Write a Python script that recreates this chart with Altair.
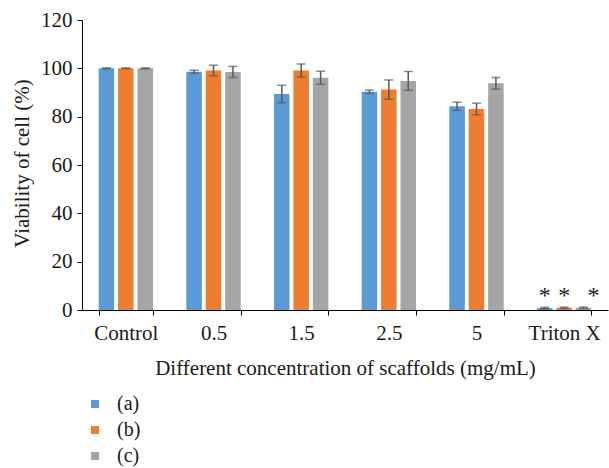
import altair as alt
import pandas as pd

categories = ["Control", "0.5", "1.5", "2.5", "5", "Triton X"]
groups = ["(a)", "(b)", "(c)"]
vals_a = [100, 98.6, 89.4, 90.3, 84.3, 0.8]
err_a = [0.2, 0.6, 3.6, 0.7, 1.7, 0.3]
vals_b = [100, 99.1, 99.1, 91.2, 83.2, 0.9]
err_b = [0.2, 2.2, 2.7, 4.0, 2.4, 0.3]
vals_c = [100, 98.5, 96.1, 94.8, 93.8, 0.9]
err_c = [0.2, 2.3, 2.7, 3.9, 2.4, 0.3]
colors = ["#5B9BD5", "#ED7D31", "#A5A5A5"]
star_category = "Triton X"

rows = []
for g, vals, errs in zip(groups, [vals_a, vals_b, vals_c], [err_a, err_b, err_c]):
    for c, v, e in zip(categories, vals, errs):
        rows.append({"cat": c, "grp": g, "val": v, "lo": v - e, "hi": v + e})
df = pd.DataFrame(rows)

stars = pd.DataFrame({"cat": [star_category] * 3, "grp": groups, "y": [3, 3, 3], "t": ["*"] * 3})

FONT = "Liberation Serif"
FS = 21

x = alt.X("cat:N", sort=categories, title="Different concentration of scaffolds (mg/mL)",
          scale=alt.Scale(paddingInner=0.38, paddingOuter=0.19),
          axis=alt.Axis(labelAngle=0, bandPosition=0, tickBand="extent", labelPadding=7,
                        titleY=64, titleBaseline="alphabetic"))
xo = alt.XOffset("grp:N", sort=groups, scale=alt.Scale(paddingInner=0.2, paddingOuter=0))

bars = alt.Chart(df).mark_bar().encode(
    x=x,
    xOffset=xo,
    y=alt.Y("val:Q", title="Viability of cell (%)",
            scale=alt.Scale(domain=[0, 120], nice=False),
            axis=alt.Axis(values=[0, 20, 40, 60, 80, 100, 120], labelPadding=5,
                          titleX=-60, titleY=143, titleBaseline="middle")),
    color=alt.Color("grp:N", sort=groups, scale=alt.Scale(domain=groups, range=colors),
                    legend=alt.Legend(title=None, orient="none", legendX=3, legendY=374,
                                      direction="vertical", symbolType="square", symbolSize=64,
                                      symbolStrokeWidth=0, labelOffset=12, rowPadding=6,
                                      padding=0, labelFontSize=20, labelFont=FONT,
                                      labelColor="#1a1a1a")),
)

rules = alt.Chart(df).mark_rule(color="#595959", strokeWidth=1.5).encode(
    x=alt.X("cat:N", sort=categories), xOffset=xo, y="lo:Q", y2="hi:Q")
cap_lo = alt.Chart(df).mark_tick(color="#595959", thickness=1.5, size=9).encode(
    x=alt.X("cat:N", sort=categories), xOffset=xo, y="lo:Q")
cap_hi = alt.Chart(df).mark_tick(color="#595959", thickness=1.5, size=9).encode(
    x=alt.X("cat:N", sort=categories), xOffset=xo, y="hi:Q")

star_ab = alt.Chart(stars).transform_filter(alt.datum.grp != "(c)").mark_text(
    font=FONT, fontSize=24, baseline="alphabetic", color="#1a1a1a").encode(
    x=alt.X("cat:N", sort=categories), xOffset=xo, y="y:Q", text="t:N")
star_c = alt.Chart(stars).transform_filter(alt.datum.grp == "(c)").mark_text(
    font=FONT, fontSize=24, baseline="alphabetic", color="#1a1a1a", dx=10).encode(
    x=alt.X("cat:N", sort=categories), xOffset=xo, y="y:Q", text="t:N")

chart = alt.layer(bars, rules, cap_lo, cap_hi, star_ab, star_c).properties(
    width=526, height=290,
    autosize=alt.AutoSizeParams(type="none"),
    padding={"left": 82, "top": 20, "right": 1, "bottom": 158},
).configure_view(stroke=None).configure_axis(
    grid=False, domainColor="#000000", tickColor="#000000", tickSize=5,
    labelFont=FONT, titleFont=FONT, labelFontSize=FS, titleFontSize=FS,
    labelColor="#1a1a1a", titleColor="#1a1a1a", titleFontWeight="normal",
    domainWidth=1, tickWidth=1,
)

chart.save("out.html", embed_options={"renderer": "svg", "actions": False})
